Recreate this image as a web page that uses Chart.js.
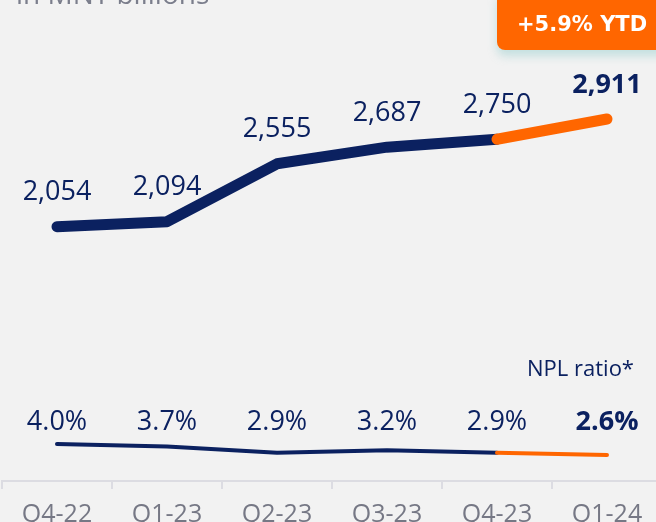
<!DOCTYPE html>
<html>
<head>
<meta charset="utf-8">
<script src="https://cdn.jsdelivr.net/npm/chart.js"></script>
<style>
  html, body { margin: 0; padding: 0; background: #f2f2f2; overflow: hidden; width: 656px; height: 522px; }
  #wrap { position: relative; width: 656px; height: 522px; overflow: hidden; }
  #chart { position: absolute; left: 0; top: 0; }
  .title { position: absolute; left: 16px; top: -21px; font: 28px/28px 'Open Sans', sans-serif; color: #7b7e8c; white-space: nowrap; }
  .badge { position: absolute; left: 497px; top: -10px; width: 190px; height: 60px; background: #ff6600; border-radius: 8px; box-shadow: 0 6px 10px rgba(110, 190, 190, 0.35); }
  .badge-text { position: absolute; left: 517px; top: 14px; font: bold 21px/21px 'DejaVu Sans', sans-serif; color: #fff; white-space: nowrap; }
  .npl { position: absolute; right: 22px; top: 356px; font: 22px/22px 'Open Sans', sans-serif; color: #0b2160; white-space: nowrap; }
</style>
</head>
<body>
<div id="wrap">
  <canvas id="chart" width="664" height="540"></canvas>
  <div class="title">in MNT billions</div>
  <div class="badge"></div>
  <div class="badge-text">+5.9% YTD</div>
  <div class="npl">NPL ratio*</div>
</div>
<script>
// data
const quarters = ['Q4-22', 'Q1-23', 'Q2-23', 'Q3-23', 'Q4-23', 'Q1-24'];
const loans = [2054, 2094, 2555, 2687, 2750, 2911];
const nplRatio = [4.0, 3.7, 2.9, 3.2, 2.9, 2.6];

const NAVY = '#0b2160';
const ORANGE = '#ff6600';
const last = quarters.length - 1;

// value labels drawn next to the points
const valueLabels = {
    id: 'valueLabels',
    afterDatasetsDraw(chart) {
        const { ctx, chartArea } = chart;
        ctx.save();
        ctx.fillStyle = NAVY;
        ctx.textAlign = 'center';
        ctx.textBaseline = 'middle';

        chart.getDatasetMeta(0).data.forEach((pt, i) => {
            ctx.font = (i === last ? 'bold ' : '') + "27px 'Open Sans', sans-serif";
            ctx.fillText(loans[i].toLocaleString('en-US'), pt.x, pt.y - 34);
        });

        chart.getDatasetMeta(1).data.forEach((pt, i) => {
            ctx.font = (i === last ? 'bold ' : '') + "27px 'Open Sans', sans-serif";
            ctx.fillText(nplRatio[i].toFixed(1) + '%', pt.x, chartArea.bottom - 59);
        });
        ctx.restore();
    }
};

const lastSegment = c => c.p1DataIndex === last ? ORANGE : undefined;

new Chart(document.getElementById('chart'), {
    type: 'line',
    data: {
        labels: quarters,
        datasets: [{
            label: 'Loans',
            data: loans,
            yAxisID: 'y',
            borderColor: NAVY,
            borderWidth: 11,
            borderCapStyle: 'round',
            borderJoinStyle: 'round',
            pointRadius: 0,
            tension: 0,
            segment: { borderColor: lastSegment }
        }, {
            label: 'NPL ratio',
            data: nplRatio,
            yAxisID: 'y1',
            borderColor: NAVY,
            borderWidth: 4,
            borderCapStyle: 'round',
            borderJoinStyle: 'round',
            pointRadius: 0,
            tension: 0,
            segment: { borderColor: lastSegment }
        }]
    },
    options: {
        responsive: false,
        animation: false,
        layout: { autoPadding: false, padding: { left: 2, right: 2, top: 0, bottom: 0 } },
        plugins: {
            legend: { display: false },
            tooltip: { enabled: false }
        },
        scales: {
            x: {
                offset: true,
                afterFit: s => { s.height = 59; },
                grid: {
                    offset: true,
                    drawOnChartArea: false,
                    tickLength: 8,
                    color: '#dcdce2',
                    lineWidth: 2
                },
                border: { display: true, color: '#dcdce2', width: 2 },
                ticks: {
                    color: '#767885',
                    padding: 11,
                    font: { family: "'Open Sans', sans-serif", size: 25 }
                }
            },
            y: { display: false, min: 31, max: 3858 },
            y1: { display: false, min: -0.7, max: 60.5 }
        }
    },
    plugins: [valueLabels]
});
</script>
</body>
</html>
